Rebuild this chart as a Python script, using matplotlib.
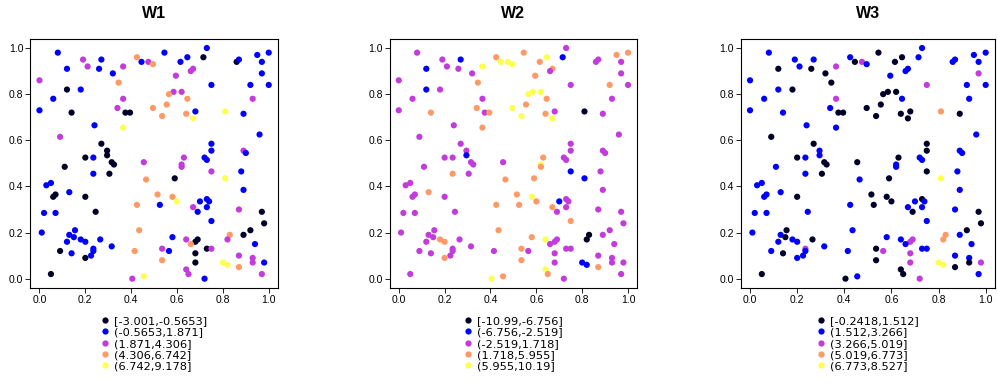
import matplotlib
matplotlib.use("Agg")
import matplotlib.pyplot as plt
from matplotlib.lines import Line2D

plt.rcParams['font.family'] = ['Liberation Sans', 'DejaVu Sans']

# sample locations (shared by all three panels)
x = [0.08, 0.19, 0.27, 0.21, 0.12, 0.26, 0.365, 0.32, 0.425, 0.445,
     0.475, 0.495, 0.0, 0.345, 0.12, 0.18, 0.06, 0.365, 0.0, 0.14,
     0.34, 0.375, 0.395, 0.495, 0.24, 0.365, 0.09, 0.27, 0.295, 0.295,
     0.20, 0.235, 0.315, 0.325, 0.455, 0.11, 0.545, 0.73, 0.715, 0.645,
     0.615, 0.67, 0.66, 0.595, 0.86, 0.87, 0.95, 1.0, 0.97, 0.97,
     0.75, 0.92, 1.0, 0.585, 0.62, 0.565, 0.645, 0.93, 0.555, 0.535,
     0.64, 0.68, 0.67, 0.81, 0.89, 0.96, 0.75, 0.75, 0.89, 0.90,
     0.63, 0.72, 0.73, 0.62, 0.235, 0.305, 0.465, 0.03, 0.05, 0.13,
     0.06, 0.07, 0.20, 0.515, 0.425, 0.02, 0.07, 0.245, 0.01, 0.435,
     0.155, 0.13, 0.15, 0.12, 0.18, 0.20, 0.265, 0.09, 0.14, 0.235,
     0.235, 0.225, 0.20, 0.315, 0.415, 0.05, 0.405, 0.455, 0.62, 0.75,
     0.88, 0.81, 0.59, 0.89, 0.58, 0.60, 0.525, 0.70, 0.73, 0.74,
     0.67, 0.73, 0.69, 0.87, 0.97, 0.98, 0.75, 0.92, 0.89, 0.83,
     0.82, 0.58, 0.64, 0.69, 0.68, 0.66, 0.94, 0.535, 0.565, 0.68,
     0.73, 0.75, 0.87, 0.93, 0.93, 0.98, 0.535, 0.68, 0.80, 0.82,
     0.87, 0.64, 0.65, 0.97, 0.72]
y = [0.98, 0.95, 0.95, 0.92, 0.91, 0.91, 0.92, 0.89, 0.96, 0.94,
     0.94, 0.93, 0.86, 0.85, 0.82, 0.82, 0.78, 0.78, 0.73, 0.72,
     0.74, 0.72, 0.72, 0.74, 0.665, 0.655, 0.615, 0.585, 0.555, 0.535,
     0.525, 0.525, 0.505, 0.495, 0.505, 0.485, 0.98, 1.0, 0.96, 0.96,
     0.94, 0.91, 0.90, 0.88, 0.94, 0.95, 0.97, 0.98, 0.94, 0.89,
     0.84, 0.84, 0.84, 0.81, 0.81, 0.80, 0.78, 0.78, 0.755, 0.705,
     0.715, 0.725, 0.695, 0.725, 0.715, 0.625, 0.585, 0.555, 0.555, 0.545,
     0.525, 0.525, 0.515, 0.495, 0.455, 0.455, 0.43, 0.405, 0.415, 0.375,
     0.355, 0.365, 0.355, 0.365, 0.32, 0.285, 0.285, 0.29, 0.20, 0.21,
     0.21, 0.19, 0.18, 0.16, 0.17, 0.16, 0.17, 0.12, 0.11, 0.13,
     0.12, 0.10, 0.09, 0.14, 0.12, 0.02, 0.0, 0.01, 0.485, 0.465,
     0.465, 0.435, 0.435, 0.385, 0.355, 0.335, 0.32, 0.335, 0.345, 0.335,
     0.31, 0.31, 0.29, 0.30, 0.29, 0.24, 0.25, 0.21, 0.19, 0.19,
     0.17, 0.18, 0.17, 0.17, 0.16, 0.15, 0.15, 0.13, 0.12, 0.11,
     0.13, 0.13, 0.10, 0.09, 0.07, 0.07, 0.08, 0.07, 0.07, 0.06,
     0.05, 0.04, 0.02, 0.02, 0.0]

# class (1..5) of each location in each panel
w1 = [2, 3, 2, 3, 2, 2, 3, 2, 4, 2, 3, 4, 3, 4, 1, 2, 2, 3, 2, 1,
      3, 1, 1, 4, 2, 5, 3, 1, 1, 1, 1, 2, 1, 1, 3, 1, 2, 2, 1, 2,
      2, 3, 3, 3, 1, 2, 2, 2, 2, 2, 2, 2, 2, 3, 3, 4, 4, 3, 4, 4,
      4, 2, 5, 5, 2, 2, 2, 2, 3, 2, 3, 2, 2, 3, 2, 1, 4, 2, 2, 2,
      1, 1, 1, 4, 4, 2, 2, 1, 2, 4, 2, 2, 2, 2, 2, 2, 2, 1, 2, 2,
      2, 2, 1, 2, 4, 1, 3, 5, 3, 3, 2, 5, 1, 2, 4, 5, 2, 2, 2, 2,
      3, 2, 2, 3, 1, 1, 2, 1, 1, 4, 3, 2, 3, 1, 1, 4, 2, 3, 2, 1,
      1, 3, 3, 3, 3, 2, 4, 1, 5, 5, 4, 3, 3, 3, 2]
w2 = [3, 3, 2, 3, 2, 3, 5, 3, 4, 5, 5, 5, 3, 4, 2, 3, 3, 3, 3, 4,
      4, 3, 4, 5, 3, 4, 3, 3, 3, 2, 3, 3, 3, 3, 3, 3, 4, 3, 2, 5,
      4, 4, 3, 4, 3, 3, 4, 4, 3, 3, 3, 4, 3, 5, 5, 5, 4, 3, 4, 5,
      4, 3, 5, 1, 3, 3, 3, 3, 3, 3, 4, 3, 3, 5, 4, 3, 4, 3, 3, 4,
      3, 3, 3, 4, 4, 3, 3, 3, 3, 4, 3, 3, 3, 3, 4, 4, 3, 3, 3, 3,
      3, 3, 4, 3, 3, 3, 5, 4, 4, 2, 3, 2, 4, 3, 5, 4, 4, 2, 3, 3,
      4, 3, 3, 3, 3, 3, 4, 3, 3, 1, 1, 4, 5, 3, 3, 3, 3, 4, 3, 3,
      3, 3, 3, 3, 3, 3, 4, 3, 2, 2, 4, 5, 4, 3, 3]
w3 = [2, 2, 2, 2, 1, 1, 3, 1, 2, 1, 3, 2, 2, 1, 2, 1, 2, 3, 2, 2,
      2, 1, 1, 1, 2, 2, 1, 1, 2, 2, 1, 2, 1, 1, 1, 2, 1, 2, 2, 1,
      1, 2, 2, 2, 2, 2, 2, 2, 2, 3, 3, 2, 2, 1, 1, 1, 2, 2, 1, 1,
      1, 1, 1, 4, 1, 2, 1, 1, 2, 2, 1, 2, 2, 2, 2, 1, 2, 2, 2, 2,
      2, 2, 1, 1, 2, 2, 2, 2, 2, 2, 1, 2, 1, 2, 2, 2, 1, 2, 1, 3,
      2, 2, 2, 2, 2, 1, 1, 2, 2, 1, 2, 5, 1, 2, 1, 1, 1, 2, 1, 2,
      2, 2, 1, 2, 1, 1, 2, 1, 2, 4, 4, 2, 2, 3, 3, 2, 2, 1, 3, 3,
      2, 2, 2, 2, 1, 3, 1, 3, 5, 5, 1, 1, 1, 2, 3]

titles = ["W1", "W2", "W3"]
labels_w1 = ["[-3.001,-0.5653]", "(-0.5653,1.871]", "(1.871,4.306]",
             "(4.306,6.742]", "(6.742,9.178]"]
labels_w2 = ["[-10.99,-6.756]", "(-6.756,-2.519]", "(-2.519,1.718]",
             "(1.718,5.955]", "(5.955,10.19]"]
labels_w3 = ["[-0.2418,1.512]", "(1.512,3.266]", "(3.266,5.019]",
             "(5.019,6.773]", "(6.773,8.527]"]

palette = ["#00002a", "#0000ff", "#c23bdb", "#ff9966", "#ffff4d"]

fig = plt.figure(figsize=(9.98, 3.84), dpi=100)
# panel boxes in pixels: left, width
boxes = [(30.3, 247.6), (389.6, 247.6), (740.6, 254.5)]

for (left, width), title, cls, labels in zip(boxes, titles, [w1, w2, w3],
                                              [labels_w1, labels_w2, labels_w3]):
    ax = fig.add_axes([left / 998, (384 - 287.9) / 384, width / 998, 249.1 / 384])
    cols = [palette[c - 1] for c in cls]
    ax.scatter(x, y, c=cols, s=20, linewidths=0)
    ax.set_xlim(-0.04, 1.04)
    ax.set_ylim(-0.04, 1.04)
    ax.set_xticks([0, 0.2, 0.4, 0.6, 0.8, 1.0])
    ax.set_yticks([0, 0.2, 0.4, 0.6, 0.8, 1.0])
    ax.set_xticklabels(["0.0", "0.2", "0.4", "0.6", "0.8", "1.0"])
    ax.set_yticklabels(["0.0", "0.2", "0.4", "0.6", "0.8", "1.0"])
    ax.tick_params(labelsize=7.5, length=3.5, width=0.6, pad=1.5)
    for s in ax.spines.values():
        s.set_linewidth(0.8)
    ax.set_title(title, fontsize=11.5, fontweight="bold", pad=15)
    handles = [Line2D([], [], marker="o", linestyle="", markersize=4.5,
                      markerfacecolor=p, markeredgewidth=0) for p in palette]
    ax.legend(handles, labels, loc="upper center", bbox_to_anchor=(0.5, -0.09),
              frameon=False, borderpad=0, labelspacing=0.12,
              handlelength=0.8, handletextpad=0.4,
              prop={"family": "DejaVu Sans", "size": 8.2})

fig.savefig("out.png", dpi=100)
